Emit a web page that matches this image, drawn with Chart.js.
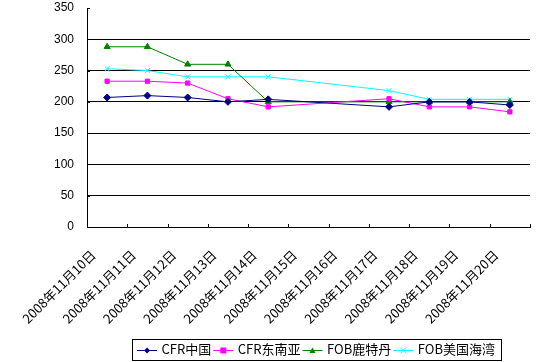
<!DOCTYPE html>
<html><head><meta charset="utf-8">
<script src="https://cdn.jsdelivr.net/npm/chart.js@4/dist/chart.umd.min.js"></script>
<style>html,body{margin:0;padding:0;background:#fff;}#wrap{width:543px;height:362px;}</style>
</head><body><div id="wrap"><canvas id="c" width="543" height="362"></canvas></div>
<script>
const categories = ["2008年11月10日","2008年11月11日","2008年11月12日","2008年11月13日","2008年11月14日","2008年11月15日","2008年11月16日","2008年11月17日","2008年11月18日","2008年11月19日","2008年11月20日"];
const seriesNames = ["CFR中国","CFR东南亚","FOB鹿特丹","FOB美国海湾"];
const cfrChina     = [207, 210, 207, 200, 204, null, null, 192, 200, 200, 195];
const cfrSEAsia    = [233, 233, 230, 205, 192, null, null, 205, 192, 192, 184];
const fobRotterdam = [288, 288, 260, 260, 200, null, null, 200, 200, 200, 200];
const fobUSGulf    = [253, 250, 240, 240, 240, null, null, 218, 204, 204, 204];
const yTicks = [0, 50, 100, 150, 200, 250, 300, 350];

const colors = ["#000080", "#FF00FF", "#008000", "#00FFFF"];
const markers = ["rectRot", "rect", "triangle", "crossRot"];
const radii = [3.5, 3, 3.5, 3.5];
const values = [cfrChina, cfrSEAsia, fobRotterdam, fobUSGulf];

const cjk = '"Noto Sans CJK SC", "Liberation Sans", sans-serif';

function drawMarker(ctx, style, x, y, r, color) {
  ctx.save();
  ctx.fillStyle = color; ctx.strokeStyle = color; ctx.lineWidth = 1;
  ctx.beginPath();
  if (style === 'rectRot') {
    ctx.moveTo(x, y - r); ctx.lineTo(x + r, y); ctx.lineTo(x, y + r); ctx.lineTo(x - r, y); ctx.closePath(); ctx.fill();
  } else if (style === 'rect') {
    ctx.rect(x - r, y - r, 2 * r, 2 * r); ctx.fill();
  } else if (style === 'triangle') {
    ctx.moveTo(x, y - r); ctx.lineTo(x + r, y + r * 0.8); ctx.lineTo(x - r, y + r * 0.8); ctx.closePath(); ctx.fill();
  } else {
    ctx.moveTo(x - r, y - r); ctx.lineTo(x + r, y + r); ctx.moveTo(x + r, y - r); ctx.lineTo(x - r, y + r); ctx.stroke();
  }
  ctx.restore();
}

const decor = {
  id: 'decor',
  afterLayout(chart) {
    const lg = chart.legend;
    if (lg) {
      const d = 316 - (lg.left + lg.right) / 2;
      lg.left += d; lg.right += d;
    }
  },
  afterDraw(chart) {
    const ctx = chart.ctx;
    const xs = chart.scales.x, ys = chart.scales.y;
    ctx.save();
    ctx.strokeStyle = '#000'; ctx.lineWidth = 1;
    const n = categories.length;
    for (let i = 0; i <= n; i++) {
      const x = Math.round(xs.left + i * (xs.right - xs.left) / n) + 0.5;
      ctx.beginPath(); ctx.moveTo(x, ys.bottom); ctx.lineTo(x, ys.bottom - 3); ctx.stroke();
    }
    yTicks.forEach(v => {
      const y = Math.round(ys.getPixelForValue(v)) + 0.5;
      ctx.beginPath(); ctx.moveTo(xs.left, y); ctx.lineTo(xs.left + 3, y); ctx.stroke();
    });
    const lg = chart.legend;
    if (lg && lg.legendHitBoxes && lg.legendHitBoxes.length) {
      let minL = 1e9, maxR = -1e9, top = 1e9, bot = -1e9;
      lg.legendHitBoxes.forEach((hb, i) => {
        const bw = lg.options.labels.boxWidth;
        const cy = hb.top + hb.height / 2;
        ctx.strokeStyle = colors[i]; ctx.lineWidth = 1;
        ctx.beginPath(); ctx.moveTo(hb.left, Math.round(cy) + 0.5); ctx.lineTo(hb.left + bw + 2, Math.round(cy) + 0.5); ctx.stroke();
        drawMarker(ctx, markers[i], hb.left + bw / 2 + 1, Math.round(cy) + 0.5, 3, colors[i]);
        minL = Math.min(minL, hb.left); maxR = Math.max(maxR, hb.left + hb.width);
        top = Math.min(top, hb.top); bot = Math.max(bot, hb.top + hb.height);
      });
      ctx.strokeStyle = '#000'; ctx.lineWidth = 1;
      const cy = (top + bot) / 2;
      ctx.strokeRect(Math.round(minL - 5) + 0.5, Math.round(cy - 10.5) + 0.5, Math.round(maxR - minL + 11), 21);
    }
    ctx.restore();
  }
};

const datasets = values.map((d, i) => ({
  label: seriesNames[i],
  data: d,
  borderColor: colors[i],
  backgroundColor: colors[i],
  borderWidth: 1,
  pointStyle: markers[i],
  pointRadius: radii[i],
  pointBorderWidth: 1,
  pointBorderColor: colors[i],
  pointBackgroundColor: colors[i],
  spanGaps: true,
  tension: 0
}));

new Chart(document.getElementById('c'), {
  type: 'line',
  data: { labels: categories, datasets },
  options: {
    responsive: false,
    animation: false,
    devicePixelRatio: 1,
    layout: { padding: { top: 8, right: 13, left: 0, bottom: -4 } },
    plugins: {
      tooltip: { enabled: false },
      legend: {
        position: 'bottom',
        fullSize: false,
        labels: {
          boxWidth: 18, boxHeight: 12, padding: 2,
          color: '#000',
          font: { family: cjk, size: 13 },
          generateLabels(chart) {
            return chart.data.datasets.map((ds, i) => ({
              text: ds.label, fillStyle: 'rgba(0,0,0,0)', strokeStyle: 'rgba(0,0,0,0)',
              lineWidth: 0, hidden: false, datasetIndex: i, fontColor: '#000'
            }));
          }
        }
      }
    },
    scales: {
      x: {
        offset: true,
        grid: { display: false, drawTicks: false, offset: true },
        border: { display: true, color: '#000', width: 1 },
        ticks: {
          autoSkip: false, maxRotation: 45, minRotation: 45,
          color: '#000', padding: 20, labelOffset: -14,
          font: { family: cjk, size: 13 }
        },
        afterFit(scale) { scale.height = 114; }
      },
      y: {
        min: 0, max: 350,
        afterBuildTicks(scale) { scale.ticks = yTicks.map(v => ({ value: v })); },
        grid: {
          drawTicks: true, tickLength: 13, tickColor: 'rgba(0,0,0,0)',
          color: ctx => (ctx.tick && (ctx.tick.value === 350 || ctx.tick.value === 0)) ? 'rgba(0,0,0,0)' : '#000',
          lineWidth: 1
        },
        border: { display: true, color: '#000', width: 1 },
        ticks: {
          color: '#000', padding: 0,
          font: { family: '"Liberation Sans", Arial, sans-serif', size: 12 }
        },
        afterFit(scale) { scale.width = 87; }
      }
    }
  },
  plugins: [decor]
});
</script>
</body></html>
